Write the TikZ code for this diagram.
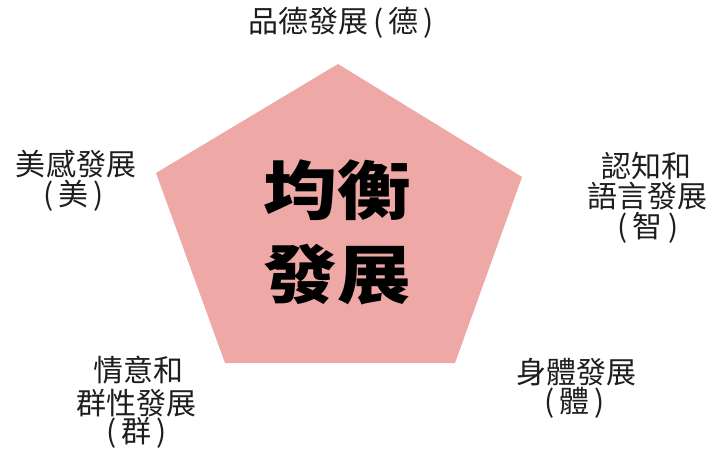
\documentclass[tikz,border=0pt]{standalone}
\usepackage{fontspec}
\newfontfamily\cjk{Noto Sans CJK TC}
\definecolor{penta}{RGB}{238,168,165}
\definecolor{labeltext}{RGB}{30,30,30}
\tikzset{
  lbl/.style={font=\cjk\fontsize{30}{34}\selectfont, text=labeltext, align=center, inner sep=0pt},
  big/.style={font=\cjk\bfseries\fontsize{64}{70}\selectfont, text=black, inner sep=0pt, xscale=1.15}
}
\begin{document}
\begin{tikzpicture}[x=1pt,y=-1pt]
\useasboundingbox (0,0) rectangle (719,453);
\coordinate (v1) at (338,64);
\coordinate (v2) at (522,177);
\coordinate (v3) at (455,363);
\coordinate (v4) at (225,363);
\coordinate (v5) at (156,173);
\fill[penta] (v1) -- (v2) -- (v3) -- (v4) -- (v5) -- cycle;
\node[big] (c1) at (337,190) {均衡};
\node[big] (c2) at (337,275) {發展};
\node[lbl] (t) at (341,23) {品德發展\,(\,德\,)};
\node[lbl] (l1) at (76,164) {美感發展};
\node[lbl] (l2) at (74,196) {(\,美\,)};
\node[lbl] (r1) at (646,166) {認知和};
\node[lbl] (r2) at (647,196) {語言發展};
\node[lbl] (r3) at (648,228) {(\,智\,)};
\node[lbl] (bl1) at (138,370) {情意和};
\node[lbl] (bl2) at (136,403) {群性發展};
\node[lbl] (bl3) at (137,433) {(\,群\,)};
\node[lbl] (br1) at (576,372) {身體發展};
\node[lbl] (br2) at (575,403) {(\,體\,)};
\end{tikzpicture}
\end{document}
